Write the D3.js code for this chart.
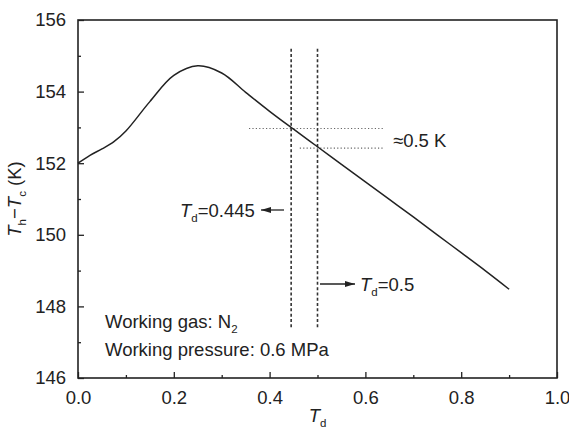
<!DOCTYPE html>
<html>
<head>
<meta charset="utf-8">
<script src="https://cdn.jsdelivr.net/npm/d3@7"></script>
<style>
  body { margin: 0; background: #fff; }
  svg { font-family: "Liberation Sans", Arial, sans-serif; }
</style>
</head>
<body>
<svg width="569" height="429"></svg>
<script>
// data
var td = [0, 0.025, 0.05, 0.075, 0.1, 0.15, 0.2, 0.25, 0.3, 0.35, 0.4, 0.45, 0.5, 0.55, 0.6, 0.65, 0.7, 0.75, 0.8, 0.85, 0.9];
var dT = [152.0, 152.22, 152.4, 152.6, 152.9, 153.72, 154.45, 154.72, 154.52, 153.98, 153.45, 152.95, 152.46, 151.97, 151.48, 150.99, 150.5, 150.0, 149.5, 149.0, 148.48];
var xTicks = [0, 0.2, 0.4, 0.6, 0.8, 1.0];
var yTicks = [146, 148, 150, 152, 154, 156];
var markerX = [0.445, 0.5];
var markerY = [147.4, 155.2];
var guideY = [152.97, 152.42];
var guideX0 = [0.357, 0.463];
var guideX1 = 0.64;

var margin = {top: 20, right: 12, bottom: 51, left: 78},
    width = 569 - margin.left - margin.right,
    height = 429 - margin.top - margin.bottom;

var svg = d3.select("svg"),
    g = svg.append("g").attr("transform", "translate(" + margin.left + "," + margin.top + ")");

var x = d3.scaleLinear().domain([0, 1]).range([0, width]);
var y = d3.scaleLinear().domain([146, 156]).range([height, 0]);

var ink = "#222";
var fs = 18.5;

// minor ticks (inward)
var xMinor = d3.range(0.1, 1, 0.2), yMinor = d3.range(147, 156, 2);

g.append("g")
    .attr("transform", "translate(0," + height + ")")
    .call(d3.axisBottom(x).tickValues(xTicks).tickFormat(d3.format(".1f")).tickSizeInner(-6).tickSizeOuter(0).tickPadding(13))
    .call(function(a) {
      a.select(".domain").remove();
      a.selectAll("line").attr("stroke", ink).attr("stroke-width", 1.3);
      a.selectAll("text").attr("font-size", fs).attr("fill", ink).attr("font-family", null);
    });
g.append("g")
    .attr("transform", "translate(0," + height + ")")
    .call(d3.axisBottom(x).tickValues(xMinor).tickFormat("").tickSizeInner(-3).tickSizeOuter(0))
    .call(function(a) {
      a.select(".domain").remove();
      a.selectAll("line").attr("stroke", ink).attr("stroke-width", 1.3);
    });

g.append("g")
    .call(d3.axisLeft(y).tickValues(yTicks).tickSizeInner(-6).tickSizeOuter(0).tickPadding(12))
    .call(function(a) {
      a.select(".domain").remove();
      a.selectAll("line").attr("stroke", ink).attr("stroke-width", 1.3);
      a.selectAll("text").attr("font-size", fs).attr("fill", ink).attr("font-family", null);
    });
g.append("g")
    .call(d3.axisLeft(y).tickValues(yMinor).tickFormat("").tickSizeInner(-3).tickSizeOuter(0))
    .call(function(a) {
      a.select(".domain").remove();
      a.selectAll("line").attr("stroke", ink).attr("stroke-width", 1.3);
    });

// frame
g.append("rect")
    .attr("width", width).attr("height", height)
    .attr("fill", "none").attr("stroke", ink).attr("stroke-width", 1.6);

// dotted horizontal guides
g.selectAll(".guide").data(guideY).enter().append("line")
    .attr("class", "guide")
    .attr("x1", function(d, i) { return x(guideX0[i]); })
    .attr("x2", x(guideX1))
    .attr("y1", function(d) { return y(d); })
    .attr("y2", function(d) { return y(d); })
    .attr("stroke", "#666").attr("stroke-width", 1.1)
    .attr("stroke-dasharray", "1.2,2.2");

// dashed vertical markers
g.selectAll(".marker").data(markerX).enter().append("line")
    .attr("class", "marker")
    .attr("x1", function(d) { return x(d); })
    .attr("x2", function(d) { return x(d); })
    .attr("y1", y(markerY[1]))
    .attr("y2", y(markerY[0]))
    .attr("stroke", "#333").attr("stroke-width", 1.6)
    .attr("stroke-dasharray", "3,2.3");

// curve
var line = d3.line()
    .x(function(d, i) { return x(td[i]); })
    .y(function(d) { return y(d); })
    .curve(d3.curveCatmullRom.alpha(0.5));

g.append("path")
    .datum(dT)
    .attr("d", line)
    .attr("fill", "none")
    .attr("stroke", ink)
    .attr("stroke-width", 1.5);

// arrow head marker
svg.append("defs").append("marker")
    .attr("id", "ah")
    .attr("viewBox", "0 0 10 6")
    .attr("refX", 10).attr("refY", 3)
    .attr("markerWidth", 10).attr("markerHeight", 6)
    .attr("markerUnits", "userSpaceOnUse")
    .attr("orient", "auto")
  .append("path").attr("d", "M0,0L10,3L0,6Z").attr("fill", ink);

// helper for T_d labels
function tdLabel(sel, xx, yy, rest) {
  var t = sel.append("text").attr("x", xx).attr("y", yy).attr("font-size", fs).attr("fill", ink);
  t.append("tspan").attr("font-style", "italic").text("T");
  t.append("tspan").attr("font-size", 11.5).attr("dy", 5).text("d");
  t.append("tspan").attr("dy", -5).text(rest);
  return t;
}

var ann = svg.append("g");
tdLabel(ann, 180, 217, "=0.445");
ann.append("line")
    .attr("x1", 284).attr("x2", 261).attr("y1", 210).attr("y2", 210)
    .attr("stroke", ink).attr("stroke-width", 1.3).attr("marker-end", "url(#ah)");

tdLabel(ann, 360, 291, "=0.5");
ann.append("line")
    .attr("x1", 320).attr("x2", 355).attr("y1", 284).attr("y2", 284)
    .attr("stroke", ink).attr("stroke-width", 1.3).attr("marker-end", "url(#ah)");

ann.append("text").attr("x", 393).attr("y", 147).attr("font-size", fs).attr("fill", ink).text("\u22480.5 K");

var gas = ann.append("text").attr("x", 105).attr("y", 328).attr("font-size", fs).attr("fill", ink);
gas.append("tspan").text("Working gas: N");
gas.append("tspan").attr("font-size", 11.5).attr("dy", 5).text("2");
ann.append("text").attr("x", 105).attr("y", 356).attr("font-size", fs).attr("fill", ink).text("Working pressure: 0.6 MPa");

// axis titles
var xt = svg.append("text").attr("x", margin.left + width / 2).attr("y", 422)
    .attr("text-anchor", "middle").attr("font-size", fs).attr("fill", ink);
xt.append("tspan").attr("font-style", "italic").text("T");
xt.append("tspan").attr("font-size", 11.5).attr("dy", 5).text("d");

var yt = svg.append("text")
    .attr("transform", "translate(21," + (margin.top + height / 2) + ") rotate(-90)")
    .attr("text-anchor", "middle").attr("font-size", fs).attr("fill", ink);
yt.append("tspan").attr("font-style", "italic").text("T");
yt.append("tspan").attr("font-size", 11.5).attr("dy", 5).text("h");
yt.append("tspan").attr("dy", -5).text("\u2212");
yt.append("tspan").attr("font-style", "italic").text("T");
yt.append("tspan").attr("font-size", 11.5).attr("dy", 5).text("c");
yt.append("tspan").attr("dy", -5).text(" (K)");
</script>
</body>
</html>
